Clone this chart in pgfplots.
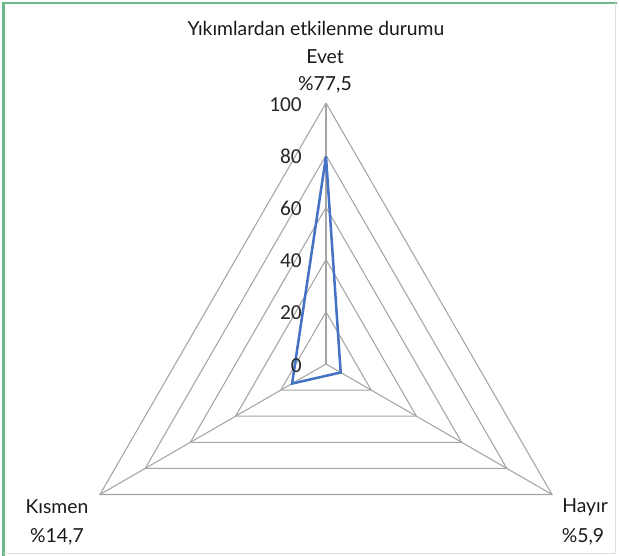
\documentclass[border=0pt]{standalone}
\usepackage{pgfplots}
\pgfplotsset{compat=1.18}
\usepgfplotslibrary{polar}
\usepackage{fontspec}
\setmainfont{Lato}
\newfontfamily\carlito{Carlito}

\definecolor{radarblue}{RGB}{68,114,196}
\definecolor{gridgray}{RGB}{165,165,165}
\definecolor{framegreen}{RGB}{110,185,140}

\begin{document}
\begin{tikzpicture}
  % 1 px of the reference = 0.75pt
  \path[use as bounding box] (0,0) rectangle (464.25pt,417pt);
  \begin{scope}[x=0.75pt,y=0.75pt]
    \draw[framegreen, line width=1.5pt] (3.5,0) -- (3.5,552.5) -- (617,552.5);
    \draw[gray!25, line width=0.6pt] (3.5,2.5) -- (615.5,2.5) -- (615.5,552.5);
  \end{scope}

  \begin{polaraxis}[
      at={(244.5pt,144pt)}, anchor=center,
      scale only axis,
      width=391.5pt, height=391.5pt,
      ymin=0, ymax=100,
      axis line style={draw=none},
      xtick=\empty, ytick=\empty,
      clip=false,
    ]
    % triangular grid
    \addplot[gridgray, line width=0.8pt, no marks] coordinates {(90,20) (210,20) (330,20) (90,20)};
    \addplot[gridgray, line width=0.8pt, no marks] coordinates {(90,40) (210,40) (330,40) (90,40)};
    \addplot[gridgray, line width=0.8pt, no marks] coordinates {(90,60) (210,60) (330,60) (90,60)};
    \addplot[gridgray, line width=0.8pt, no marks] coordinates {(90,80) (210,80) (330,80) (90,80)};
    \addplot[gridgray, line width=0.8pt, no marks] coordinates {(90,100) (210,100) (330,100) (90,100)};
    % spokes
    \addplot[gridgray, line width=0.8pt, no marks] coordinates {(90,0) (90,100)};
    \addplot[gridgray, line width=0.8pt, no marks] coordinates {(210,0) (210,100)};
    \addplot[gridgray, line width=0.8pt, no marks] coordinates {(330,0) (330,100)};
    % data: Evet, Kismen, Hayir
    \addplot[radarblue, line width=1.9pt, no marks, line join=miter]
      coordinates {(90,79.5) (210,15) (330,6.5) (90,79.5)};
    % radial tick labels
    \addplot[draw=none, no marks, nodes near coords, point meta=explicit symbolic,
      nodes near coords style={anchor=east, font=\carlito\fontsize{16}{16}\selectfont,
        text=black!85, inner sep=0pt, xshift=-18pt, yshift=-1pt}]
      coordinates {(90,0) [0] (90,20) [20] (90,40) [40] (90,60) [60] (90,80) [80] (90,100) [100]};
  \end{polaraxis}

  \begin{scope}[x=0.75pt,y=0.75pt, font=\fontsize{14.5}{14.5}\selectfont, text=black!90]
    \node at (316,528) {Yıkımlardan etkilenme durumu};
    \node at (325,499) {Evet};
    \node at (325,471) {\%77,5};
    \node at (57,49) {Kısmen};
    \node at (57,19) {\%14,7};
    \node at (585,49) {Hayır};
    \node at (583,19) {\%5,9};
  \end{scope}
\end{tikzpicture}
\end{document}
